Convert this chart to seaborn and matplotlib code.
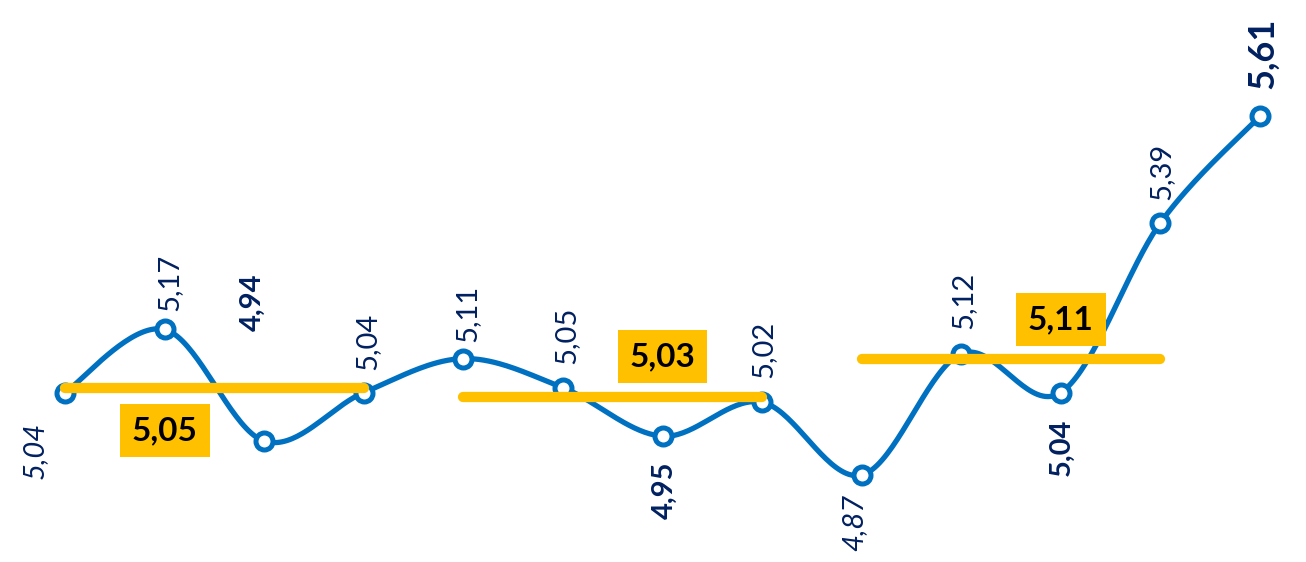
import numpy as np
import pandas as pd
import matplotlib
matplotlib.use("Agg")
import matplotlib.pyplot as plt
import seaborn as sns

# ---- data ----
values = [5.04, 5.17, 4.94, 5.04, 5.11, 5.05, 4.95, 5.02, 4.87, 5.12, 5.04, 5.39, 5.61]
labels = ["5,04", "5,17", "4,94", "5,04", "5,11", "5,05", "4,95", "5,02", "4,87", "5,12", "5,04", "5,39", "5,61"]
avg_values = [5.05, 5.03, 5.11]
avg_labels = ["5,05", "5,03", "5,11"]
avg_start = [0, 4, 8]
avg_end = [3, 7, 11]

# ---- styles ----
BLUE = "#0070C0"
NAVY = "#002060"
YELLOW = "#FFC000"
label_offsets = [(-30, -58), (5, 47), (-11, 139), (4, 51), (4, 45), (3, 52), (2, -54),
                 (1, 53), (-7, -47), (2, 53), (1, -55), (1, 51), (3, 63)]
label_weight = ["normal", "normal", "bold", "normal", "normal", "normal", "bold",
                "normal", "normal", "normal", "bold", "normal", "bold"]
label_style = ["italic", "normal", "normal", "normal", "normal", "normal", "normal",
               "normal", "italic", "normal", "normal", "normal", "normal"]
label_size = [21] * 12 + [26]
box_offsets = [(0, -43), (0, 41), (0, 39)]
box_x = [1, 6, 10]

sns.set_theme(style="white")
plt.rcParams['font.family'] = ['Lato', 'DejaVu Sans']

fig = plt.figure(figsize=(13.06, 5.62), dpi=100)
ax = fig.add_axes([0, 0, 1, 1])

x = np.arange(len(values))
y = np.array(values)

# Catmull-Rom style smoothing (like Excel smoothed line)
P = np.column_stack([x, y]).astype(float)
Pext = np.vstack([P[0], P, P[-1]])
xs, ys = [], []
t = np.linspace(0, 1, 40)
for i in range(len(P) - 1):
    p0, p1, p2, p3 = Pext[i], Pext[i + 1], Pext[i + 2], Pext[i + 3]
    c1 = p1 + (p2 - p0) / 6.0
    c2 = p2 - (p3 - p1) / 6.0
    b = ((1 - t) ** 3)[:, None] * p1 + (3 * (1 - t) ** 2 * t)[:, None] * c1 \
        + (3 * (1 - t) * t ** 2)[:, None] * c2 + (t ** 3)[:, None] * p2
    xs.extend(b[:, 0]); ys.extend(b[:, 1])
curve = pd.DataFrame({"x": xs, "y": ys})

sns.lineplot(data=curve, x="x", y="y", sort=False, estimator=None, color=BLUE,
             linewidth=3.8, ax=ax, zorder=2)
sns.scatterplot(x=x, y=y, ax=ax, s=150, color="white", edgecolor=BLUE,
                linewidth=3.6, zorder=3)

# averages
for v, lab, s, e, bx, off in zip(avg_values, avg_labels, avg_start, avg_end, box_x, box_offsets):
    ax.plot([s, e], [v, v], color=YELLOW, linewidth=7.4, solid_capstyle="round", zorder=4)
    ax.annotate(lab, (bx, v), xytext=off, textcoords="offset pixels",
                ha="center", va="center", fontsize=24, fontweight="bold", color="black",
                bbox=dict(boxstyle="square,pad=0.36", fc=YELLOW, ec="none"), zorder=5)

# data labels
for xi, yi, lab, off, w, st, fs in zip(x, y, labels, label_offsets, label_weight, label_style, label_size):
    ax.annotate(lab, (xi, yi), xytext=off, textcoords="offset pixels", rotation=90,
                ha="center", va="center", fontsize=fs, fontweight=w, fontstyle=st,
                color=NAVY, zorder=6)

ax.set_xlim(-0.653, 12.462)
ax.set_ylim(4.6906, 5.8494)
ax.set_axis_off()

fig.savefig("out.png", dpi=100, facecolor="white")
